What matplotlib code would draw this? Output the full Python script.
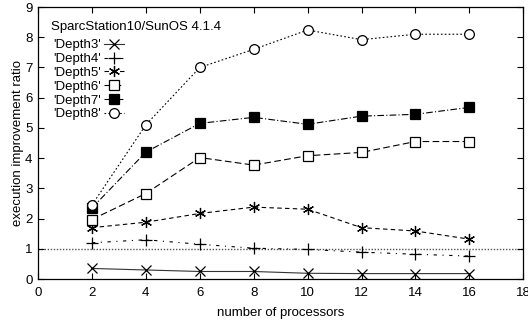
import matplotlib
matplotlib.use("Agg")
import matplotlib.pyplot as plt

plt.rcParams['font.family'] = ['Liberation Sans', 'DejaVu Sans']

processors = [2, 4, 6, 8, 10, 12, 14, 16]
depth3 = [0.35, 0.30, 0.25, 0.25, 0.19, 0.18, 0.18, 0.18]
depth4 = [1.20, 1.30, 1.15, 1.02, 0.98, 0.89, 0.82, 0.76]
depth5 = [1.70, 1.88, 2.17, 2.38, 2.31, 1.70, 1.59, 1.32]
depth6 = [1.97, 2.83, 4.02, 3.77, 4.08, 4.19, 4.55, 4.55]
depth7 = [2.35, 4.20, 5.15, 5.35, 5.12, 5.39, 5.45, 5.68]
depth8 = [2.45, 5.10, 7.00, 7.60, 8.24, 7.92, 8.10, 8.10]
series_labels = ["'Depth3'", "'Depth4'", "'Depth5'", "'Depth6'", "'Depth7'", "'Depth8'"]
baseline = 1.0
title_text = "SparcStation10/SunOS 4.1.4"

FS = 9.5

fig = plt.figure(figsize=(5.28, 3.2), dpi=100)
ax = fig.add_axes([0.072, 0.128, 0.919, 0.85])

lw = 0.8
styles = [
    dict(linestyle='-', marker='x', ms=7, mfc='none', color='#333333'),
    dict(linestyle=(0, (3, 5, 1, 5)), marker='+', ms=8, mfc='none', color='black'),
    dict(linestyle=(0, (4, 3)), marker=(6, 2, 0), ms=8, mfc='none', color='black'),
    dict(linestyle=(0, (6, 3)), marker='s', ms=7, mfc='white', color='black'),
    dict(linestyle=(0, (6, 2, 1, 2)), marker='s', ms=7, mfc='black', color='black'),
    dict(linestyle=(0, (1.5, 2)), marker='o', ms=7, mfc='white', color='black'),
]
data = [depth3, depth4, depth5, depth6, depth7, depth8]

ax.axhline(baseline, color='#555555', linestyle=(0, (1, 1.2)), lw=1.0, zorder=1)

handles = []
for vals, st, lab in zip(data, styles, series_labels):
    h, = ax.plot(processors, vals, lw=lw, mew=0.9, mec='black', label=lab, zorder=3, **st)
    handles.append(h)

ax.set_xlim(0, 18)
ax.set_ylim(0, 9)
ax.set_xticks(range(0, 19, 2))
ax.set_yticks(range(0, 10))
ax.tick_params(direction='in', top=True, right=True, length=4, width=0.8,
               labelsize=FS, pad=4)
ax.tick_params(axis='x', pad=5.5)
for s in ax.spines.values():
    s.set_linewidth(0.9)

ax.set_xlabel('number of processors', fontsize=FS, labelpad=6)
ax.set_ylabel('execution improvement ratio', fontsize=FS, labelpad=1)

ax.text(0.027, 0.947, title_text, transform=ax.transAxes, fontsize=FS,
        ha='left', va='top')
ax.legend(handles=handles, loc='upper left', bbox_to_anchor=(0.028, 0.887),
          frameon=False, markerfirst=False, fontsize=FS, handlelength=1.5,
          handletextpad=0.25, labelspacing=0.12, borderpad=0.1,
          borderaxespad=0.0)

fig.savefig('out.png', dpi=100)
